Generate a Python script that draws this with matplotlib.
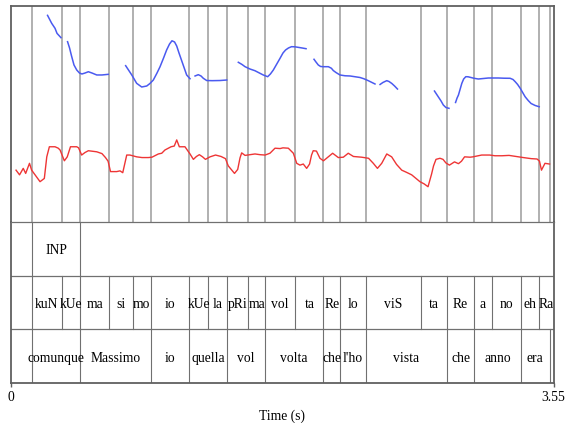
import numpy as np
import matplotlib
matplotlib.use("Agg")
import matplotlib.pyplot as plt

plt.rcParams["font.family"] = ["Liberation Serif", "DejaVu Serif"]

t_end = 3.55
nan = np.nan

# tier 1: INP
inp_bounds = [0.139, 0.451]
inp_labels = ["INP"]

# tier 2: syllables
syl_bounds = [0.139, 0.332, 0.451, 0.643, 0.796, 0.914, 1.164, 1.291, 1.415, 1.552, 1.662,
              1.860, 2.043, 2.154, 2.320, 2.680, 2.854, 3.027, 3.144, 3.336, 3.454, 3.55]
syl_labels = ["kuN", "kUe", "ma", "si", "mo", "io", "kUe", "la", "pRi", "ma", "vol",
              "ta", "Re", "lo", "viS", "ta", "Re", "a", "no", "eh", "Ra"]

# tier 3: words
word_bounds = [0.139, 0.451, 0.914, 1.164, 1.415, 1.662, 2.043, 2.154, 2.320, 2.854,
               3.027, 3.336, 3.524]
word_labels = ["comunque", "Massimo", "io", "quella", "vol", "volta", "che", "l'ho",
               "vista", "che", "anno", "era"]

# pitch contour (Hz), nan = unvoiced gap
pitch_t = [0.239, 0.266, 0.288, 0.301, 0.327, nan,
           0.370, 0.383, 0.396, 0.412, 0.430, 0.448, 0.464, 0.484, 0.506, 0.530, 0.561, 0.595, 0.636, nan,
           0.750, 0.769, 0.790, 0.822, 0.855, 0.888, 0.909, 0.931, 0.955, 0.975, 0.998, 1.018, 1.037,
           1.053, 1.070, 1.084, 1.099, 1.117, 1.132, 1.149, 1.171, nan,
           1.204, 1.225, 1.243, 1.258, 1.280, 1.315, 1.367, 1.411, nan,
           1.487, 1.511, 1.531, 1.563, 1.596, 1.622, 1.650, 1.679, 1.697, 1.716, 1.737, 1.760, 1.779,
           1.796, 1.815, 1.835, 1.858, 1.879, 1.904, 1.930, nan,
           1.982, 1.995, 2.010, 2.025, 2.043, 2.076, 2.096, 2.108, 2.126, 2.152, 2.185, 2.218, 2.250,
           2.283, 2.309, 2.337, 2.361, 2.381, nan,
           2.414, 2.433, 2.458, 2.473, 2.491, 2.509, 2.528, nan,
           2.770, 2.795, 2.813, 2.828, 2.845, 2.865, nan,
           2.908, 2.918, 2.927, 2.938, 2.949, 2.961, 2.975, 2.990, 3.003, 3.029, 3.057, 3.088, 3.123,
           3.153, 3.188, 3.225, 3.265, 3.284, 3.298, 3.314, 3.331, 3.347, 3.363, 3.383, 3.402, 3.429, 3.455]
pitch_hz = [337, 326, 319, 312, 306, nan,
            300.4, 291.7, 280.6, 268.1, 261.1, 256.9, 255.6, 256.9, 258.7, 256.9, 254.2, 254.2, 255.1, nan,
            267.1, 261.1, 254.2, 242.6, 237.5, 238.9, 242.4, 247.2, 256.9, 265.7, 277.8, 288.9, 297.2,
            301.7, 300.0, 294.4, 284.7, 273.6, 263.9, 254.2, 249.0, nan,
            252.8, 254.6, 252.8, 249.6, 246.5, 246.3, 246.5, 247.2, nan,
            271.8, 268.8, 265.7, 262.5, 260.1, 257.2, 254.2, 251.8, 255.6, 261.1, 268.8, 277.4, 284.7,
            288.9, 291.7, 293.5, 293.3, 292.6, 291.7, 290.7, nan,
            276.0, 272.2, 268.1, 266.0, 265.7, 265.7, 263.5, 260.4, 257.6, 254.2, 253.1, 252.8, 251.8,
            250.7, 248.9, 246.3, 243.8, 241.7, nan,
            241.0, 243.8, 246.3, 245.1, 242.4, 238.9, 234.7, nan,
            231.9, 224.0, 218.1, 212.5, 209.0, 207.9, nan,
            216.0, 222.2, 226.4, 234.7, 242.6, 248.6, 251.8, 251.7, 251.0, 249.6, 248.6, 249.3, 250.0,
            250.0, 250.0, 249.7, 249.6, 247.9, 244.9, 241.0, 235.7, 229.9, 224.0, 218.8, 214.6, 211.8, 210.1]

# intensity contour (dB)
int_t = [0.033, 0.056, 0.080, 0.096, 0.121, 0.135, 0.157, 0.190, 0.218, 0.234, 0.251, 0.288, 0.309,
         0.321, 0.334, 0.349, 0.368, 0.389, 0.430, 0.442, 0.462, 0.484, 0.506, 0.561, 0.595, 0.618,
         0.635, 0.644, 0.651, 0.691, 0.713, 0.731, 0.742, 0.757, 0.778, 0.822, 0.857, 0.898, 0.922,
         0.964, 0.986, 1.007, 1.029, 1.047, 1.068, 1.084, 1.101, 1.138, 1.171, 1.193, 1.213, 1.232,
         1.253, 1.272, 1.302, 1.338, 1.374, 1.403, 1.421, 1.444, 1.462, 1.483, 1.498, 1.509, 1.531,
         1.563, 1.596, 1.629, 1.662, 1.694, 1.727, 1.760, 1.779, 1.814, 1.847, 1.869, 1.890, 1.912,
         1.934, 1.953, 1.966, 1.977, 1.998, 2.021, 2.044, 2.076, 2.104, 2.141, 2.174, 2.206, 2.240,
         2.294, 2.339, 2.370, 2.397, 2.425, 2.458, 2.490, 2.522, 2.556, 2.587, 2.621, 2.649, 2.675,
         2.702, 2.728, 2.751, 2.764, 2.780, 2.806, 2.826, 2.845, 2.868, 2.901, 2.927, 2.947, 2.967,
         3.003, 3.022, 3.079, 3.131, 3.166, 3.212, 3.258, 3.303, 3.351, 3.403, 3.441, 3.457, 3.470,
         3.480, 3.493, 3.523]
int_db = [44.4, 43.1, 44.9, 43.5, 46.3, 44.4, 43.1, 41.2, 42.1, 48.1, 50.9, 50.9, 50.5,
          50.0, 48.6, 47.0, 48.1, 50.9, 50.9, 50.6, 48.6, 49.3, 49.8, 49.5, 49.0, 47.9,
          46.9, 45.3, 44.0, 44.0, 44.2, 43.7, 45.8, 48.6, 48.6, 48.1, 47.9, 47.9, 48.0,
          48.9, 49.1, 50.0, 50.5, 50.9, 51.1, 52.8, 50.9, 50.9, 48.9, 47.4, 48.2, 48.7,
          48.1, 47.4, 48.1, 48.6, 48.2, 47.6, 45.6, 44.4, 43.5, 44.6, 47.8, 49.2, 48.5,
          48.7, 48.9, 48.7, 48.6, 49.1, 50.5, 50.4, 50.6, 50.5, 49.1, 46.3, 45.8, 46.1,
          44.9, 46.1, 48.6, 49.8, 49.7, 47.7, 47.0, 48.1, 49.1, 47.9, 48.0, 49.1, 48.2,
          48.0, 47.7, 46.3, 44.9, 46.3, 48.9, 48.1, 46.0, 44.4, 43.8, 43.1, 42.1, 41.2,
          40.6, 39.8, 43.3, 45.6, 47.4, 47.7, 47.4, 46.4, 45.8, 46.7, 46.2, 46.9, 48.1,
          48.0, 48.1, 48.6, 48.6, 48.4, 48.4, 48.5, 48.2, 47.9, 47.6, 47.5, 46.9, 44.4,
          45.2, 46.3, 46.1]

frame_col = "#606060"
line_col = "#707070"
fs = 9.8

fig = plt.figure(figsize=(5.66, 4.23), dpi=100)
L, W = 11 / 566, 542.7 / 566
ax_p = fig.add_axes([L, 1 - 222 / 423, W, 216 / 423])
ax_t = fig.add_axes([L, 1 - 383 / 423, W, 161 / 423])
ax_t.patch.set_visible(False)

# upper panel: boundaries, pitch, intensity
all_bounds = sorted(set(inp_bounds) | set(syl_bounds[:-1]) | set(word_bounds))
ax_p.set_xlim(0, t_end)
ax_p.set_ylim(50, 350)
for b in all_bounds:
    ax_p.axvline(b, color="#aaaaaa", lw=1.3, zorder=1)
ax_p.plot(pitch_t, pitch_hz, color="#4a5af0", lw=1.1, zorder=3)
ax_p.set_xticks([])
ax_p.set_yticks([])
for s in ax_p.spines.values():
    s.set_color(frame_col)
    s.set_linewidth(1.3)
ax_p.spines["bottom"].set_visible(False)

ax_i = ax_p.twinx()
ax_i.set_ylim(30, 90)
ax_i.plot(int_t, int_db, color="#ee3535", lw=1.0, zorder=3)
ax_i.set_yticks([])
for s in ax_i.spines.values():
    s.set_visible(False)

# tiers
ax_t.set_xlim(0, t_end)
ax_t.set_ylim(0, 3)
for y in (1, 2):
    ax_t.axhline(y, color=line_col, lw=0.9)

tiers = [(inp_bounds, inp_labels, 2), (syl_bounds, syl_labels, 1), (word_bounds, word_labels, 0)]
for bounds, labels, row in tiers:
    for b in bounds:
        if b < t_end:
            ax_t.plot([b, b], [row, row + 1], color=line_col, lw=0.8)
    for i, lab in enumerate(labels):
        mid = (bounds[i] + bounds[i + 1]) / 2
        ax_t.text(mid, row + 0.46, lab, ha="center", va="center", fontsize=fs)

for s in ax_t.spines.values():
    s.set_color(frame_col)
    s.set_linewidth(1.3)
ax_t.spines["top"].set_color(line_col)
ax_t.spines["top"].set_linewidth(0.9)
ax_t.set_yticks([])
ax_t.set_xticks([0, t_end])
ax_t.set_xticklabels(["0", "3.55"], fontsize=fs)
ax_t.tick_params(axis="x", length=3, width=1, color=frame_col, pad=3)
ax_t.set_xlabel("Time (s)", fontsize=fs, labelpad=4)

fig.savefig("out.png", dpi=100)
